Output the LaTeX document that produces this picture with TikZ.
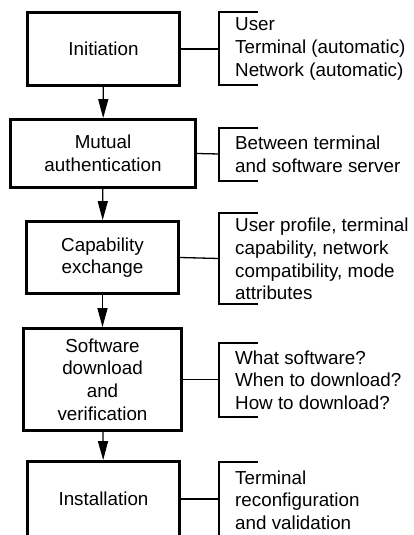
\documentclass[tikz,border=0pt]{standalone}
\usepackage{fontspec}
\setmainfont{Liberation Sans}
\usetikzlibrary{arrows.meta}
\begin{document}
\begin{tikzpicture}[x=1pt,y=-1pt,
  stage/.style={draw,line width=2.8pt,inner sep=0pt,align=center,font=\fontsize{18.8}{22.7}\selectfont},
  note/.style={anchor=west,inner sep=0pt,align=left,font=\fontsize{18.8}{22.7}\selectfont},
  flow/.style={line width=1.3pt,-{Triangle[length=19pt,width=10pt]}},
  link/.style={line width=1.3pt}]
\useasboundingbox (0,0) rectangle (413,535);
\clip (0,0) rectangle (413,535);
\fill[white] (0,0) rectangle (413,535);
% stages
\node[stage,minimum width=152pt,minimum height=73pt] (s1) at (103.5,49) {Initiation};
\node[stage,minimum width=185pt,minimum height=68pt] (s2) at (103,153.5) {Mutual\\authentication};
\node[stage,minimum width=152pt,minimum height=72pt] (s3) at (102.5,257.5) {Capability\\exchange};
\node[stage,minimum width=158pt,minimum height=102pt] (s4) at (102.5,379.5) {Software\\download\\and\\verification};
\node[stage,minimum width=152pt,minimum height=75pt] (s5) at (103.5,499) {Installation};
% flow arrows
\draw[flow] (s1) -- (s2);
\draw[flow] (s2) -- (s3);
\draw[flow] (s3) -- (s4);
\draw[flow] (s4) -- (s5);
% bracket attach points
\coordinate (b1) at (219,49);
\coordinate (b2) at (219,154);
\coordinate (b3) at (219,258.5);
\coordinate (b4) at (219,379.5);
\coordinate (b5) at (219,499);
\draw[link] (s1.east) -- (b1);
\draw[link] (s2.east) -- (b2);
\draw[link] (s3.east) -- (b3);
\draw[link] (s4.east) -- (b4);
\draw[link] (s5.east) -- (b5);
% brackets
\draw[link] (258,12) -- (219,12) -- (219,85) -- (258,85);
\draw[link] (258,128) -- (219,128) -- (219,181) -- (258,181);
\draw[link] (258,213) -- (219,213) -- (219,304) -- (258,304);
\draw[link] (258,343) -- (219,343) -- (219,417) -- (258,417);
\draw[link] (258,462) -- (219,462) -- (219,540) -- (258,540);
% notes
\node[note] (n1) at (235,49) {User\\Terminal (automatic)\\Network (automatic)};
\node[note] (n2) at (235,154.5) {Between terminal\\and software server};
\node[note] (n3) at (235,259) {User profile, terminal\\capability, network\\compatibility, mode\\attributes};
\node[note] (n4) at (235,380) {What software?\\When to download?\\How to download?};
\node[note] (n5) at (235,500) {Terminal\\reconfiguration\\and validation};
\end{tikzpicture}
\end{document}
